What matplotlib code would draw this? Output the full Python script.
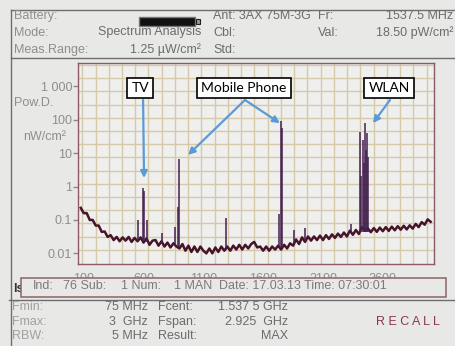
import matplotlib
matplotlib.use("Agg")
import matplotlib.pyplot as plt
from matplotlib.lines import Line2D
from matplotlib.patches import Rectangle
from matplotlib.ticker import NullLocator

# Spectrum analyser screen: power density vs frequency (MHz, nW/cm²)
freq_mhz = [
    75, 100, 125, 150, 175, 200, 225, 250, 275, 300, 325, 350, 375, 400, 425,
    450, 475, 500, 525, 550, 575, 600, 625, 650, 675, 700, 725, 750, 775, 800,
    825, 850, 875, 900, 925, 950, 975, 1000, 1025, 1050, 1075, 1100, 1125, 1150,
    1175, 1200, 1225, 1250, 1275, 1300, 1325, 1350, 1375, 1400, 1425, 1450, 1475,
    1500, 1525, 1550, 1575, 1600, 1625, 1650, 1675, 1700, 1725, 1750, 1775, 1800,
    1825, 1850, 1875, 1900, 1925, 1950, 1975, 2000, 2025, 2050, 2075, 2100, 2125,
    2150, 2175, 2200, 2225, 2250, 2275, 2300, 2325, 2350, 2375, 2400, 2425, 2450,
    2475, 2500, 2525, 2550, 2575, 2600, 2625, 2650, 2675, 2700, 2725, 2750, 2775,
    2800, 2825, 2850, 2875, 2900, 2925, 2950, 2975, 3000,
]
floor_nw = [
    0.23, 0.16, 0.16, 0.10, 0.10, 0.068, 0.068, 0.044, 0.045, 0.031, 0.035, 0.025,
    0.031, 0.023, 0.030, 0.024, 0.031, 0.022, 0.029, 0.023, 0.030, 0.021, 0.028,
    0.018, 0.024, 0.025, 0.017, 0.023, 0.016, 0.021, 0.015, 0.020, 0.016, 0.014,
    0.019, 0.012, 0.017, 0.011, 0.016, 0.011, 0.016, 0.012, 0.010, 0.014, 0.010,
    0.015, 0.011, 0.016, 0.012, 0.016, 0.012, 0.017, 0.013, 0.018, 0.013, 0.018,
    0.014, 0.019, 0.022, 0.015, 0.016, 0.012, 0.016, 0.012, 0.016, 0.013, 0.017,
    0.013, 0.018, 0.014, 0.020, 0.017, 0.026, 0.019, 0.030, 0.022, 0.032, 0.024,
    0.032, 0.025, 0.034, 0.025, 0.035, 0.027, 0.037, 0.029, 0.039, 0.031, 0.042,
    0.032, 0.048, 0.036, 0.050, 0.038, 0.060, 0.050, 0.056, 0.043, 0.057, 0.044,
    0.059, 0.046, 0.061, 0.047, 0.063, 0.049, 0.065, 0.051, 0.067, 0.052, 0.069,
    0.055, 0.076, 0.061, 0.086, 0.072, 0.104, 0.088,
]

# narrow carriers sticking out of the floor
spike_mhz = [554, 598, 606, 631, 757, 863, 884, 896, 1289, 1735, 1745, 1758,
             1858, 1947, 2336, 2409, 2420, 2432, 2440, 2451, 2458, 2465, 2478]
spike_base = [0.027, 0.024, 0.024, 0.022, 0.020, 0.017, 0.016, 0.015, 0.013,
              0.015, 0.015, 0.015, 0.019, 0.024, 0.040, 0.045, 0.045, 0.045,
              0.045, 0.045, 0.045, 0.045, 0.045]
spike_peak = [0.10, 0.92, 0.75, 0.10, 0.040, 0.060, 0.24, 6.5, 0.116, 0.15, 93,
              55, 0.050, 0.056, 0.074, 44, 2.0, 24, 5.0, 78, 12, 39, 7.8]

x_ticks = [100, 600, 1100, 1600, 2100, 2600]
y_ticks = [0.01, 0.1, 1, 10, 100, 1000]
y_tick_labels = ["0.01", "0.1", "1", "10", "100", "1 000"]

W, H = 455, 346
BG = "#e8e8e7"
LABEL = "#8e8e8e"
VALUE = "#6c6c6c"
FRAME = "#6e6e6e"
SCREEN_FONT = ["Liberation Sans", "DejaVu Sans"]


def fx(x):
    return x / W


def fy(y):
    return 1 - y / H


def screen_text(fig, x, y, s, ha="left", color=VALUE, **kw):
    fig.text(fx(x), fy(y), s, ha=ha, va="center", color=color, fontsize=9,
             family=SCREEN_FONT, **kw)


def hline(fig, x0, x1, y, color=FRAME, lw=1.0):
    fig.add_artist(Line2D([fx(x0), fx(x1)], [fy(y), fy(y)], color=color, lw=lw))


def vline(fig, x, y0, y1, color=FRAME, lw=1.0):
    fig.add_artist(Line2D([fx(x), fx(x)], [fy(y0), fy(y1)], color=color, lw=lw))


fig = plt.figure(figsize=(W / 100, H / 100), dpi=100)
fig.patch.set_facecolor(BG)

# ---- header panel
hline(fig, 11, W, 9.5)
hline(fig, 11, W, 57.5)
vline(fig, 11, 9.5, 346)
screen_text(fig, 14, 16, "Battery:", color=LABEL)
screen_text(fig, 14, 32.5, "Mode:", color=LABEL)
screen_text(fig, 14, 50, "Meas.Range:", color=LABEL)
screen_text(fig, 201, 32.5, "Spectrum Analysis", ha="right")
screen_text(fig, 201, 50, "1.25 µW/cm²", ha="right")
screen_text(fig, 213, 16, "Ant: 3AX 75M-3G")
screen_text(fig, 213, 32.5, "Cbl:")
screen_text(fig, 213, 50, "Std:")
screen_text(fig, 318, 16, "Fr:")
screen_text(fig, 318, 32.5, "Val:")
screen_text(fig, 453, 16, "1537.5 MHz", ha="right")
screen_text(fig, 453, 32.5, "18.50 pW/cm²", ha="right")
fig.add_artist(Rectangle((fx(139), fy(26)), 56 / W, 9.3 / H, transform=fig.transFigure,
                         facecolor="#111111", edgecolor="#777777", lw=1))
fig.add_artist(Rectangle((fx(196), fy(24)), 4 / W, 5 / H, transform=fig.transFigure,
                         facecolor="#9a9a80", edgecolor="#222222", lw=0.8))

# ---- spectrum plot
ax = fig.add_axes([fx(78), fy(264), (434 - 78) / W, (264 - 63) / H])
ax.set_facecolor("#efefee")
ax.set_yscale("log")
ax.set_xlim(52, 3028)
ax.set_ylim(0.0048, 4990)

# LCD grid (fixed pixel pitch, not tied to the ticks)
for k in range(27):
    gx = 0.012 + k * 0.0372
    ax.plot([gx, gx], [0, 1], color="#d6c9aa", lw=1.0,
            transform=ax.transAxes, zorder=0.5)
for k in range(15):
    gy = 1 - (2 + k * 13.2) / 201
    ax.plot([0, 1], [gy, gy], color="#d6c9aa", lw=1.0, transform=ax.transAxes,
            zorder=0.5)

ax.plot(freq_mhz, floor_nw, color="#45142a", lw=1.8, zorder=3)
ax.vlines(spike_mhz, spike_base, spike_peak, color="#43204f", lw=1.1, zorder=3)

for side in ax.spines.values():
    side.set_color("#8c5a64")
    side.set_linewidth(1.0)

ax.set_xticks(x_ticks)
ax.set_xticklabels([str(t) for t in x_ticks])
ax.set_yticks(y_ticks)
ax.set_yticklabels(y_tick_labels)
ax.yaxis.set_minor_locator(NullLocator())
ax.tick_params(axis="x", length=0, pad=6.8, labelsize=9, labelcolor=LABEL)
ax.tick_params(axis="y", length=3.6, width=1, color="#8a8a8a", pad=0.5,
               labelsize=9, labelcolor=LABEL)
for lab in ax.get_xticklabels() + ax.get_yticklabels():
    lab.set_family(SCREEN_FONT)

screen_text(fig, 14, 103, "Pow.D.", color=LABEL)
screen_text(fig, 23, 137, "nW/cm²", color=LABEL)

# callouts
arrow = dict(arrowstyle="-|>", color="#5b9bd5", lw=1.6, mutation_scale=10,
             shrinkA=0, shrinkB=0)
box = dict(boxstyle="square,pad=0.3", facecolor="white", edgecolor="black", lw=1.2)
for name, cx in [("TV", 571), ("Mobile Phone", 1440), ("WLAN", 2652)]:
    ax.text(cx, 890, name, ha="center", va="center", fontsize=10, family="Lato",
            bbox=box, zorder=6)
for start, tip in [((596, 390), (604, 1.8)),
                   ((1448, 390), (972, 8.8)),
                   ((1448, 390), (1740, 79)),
                   ((2660, 390), (2518, 79))]:
    ax.annotate("", xy=tip, xytext=start, arrowprops=arrow, zorder=5)

# ---- status line (covers the lower half of the frequency labels)
fig.text(fx(13), fy(289), "Is", ha="left", va="center", fontsize=9,
         fontweight="bold", color="#333333", family=SCREEN_FONT, zorder=0.5)
fig.add_artist(Rectangle((fx(20.7), fy(297.3)), (446 - 20.7) / W, 19 / H,
                         transform=fig.transFigure, facecolor=BG,
                         edgecolor="#8a6464", lw=1.1, zorder=1))
screen_text(fig, 33, 286, "Ind:", color="#7a7a7a")
screen_text(fig, 63, 286, "76 Sub:", color="#7a7a7a")
screen_text(fig, 121, 286, "1 Num:", color="#7a7a7a")
screen_text(fig, 174, 286, "1 MAN", color="#7a7a7a")
screen_text(fig, 219, 286, "Date: 17.03.13 Time: 07:30:01", color="#7a7a7a")

# ---- bottom panel
hline(fig, 9, W, 299.5)
screen_text(fig, 12, 307, "Fmin:", color="#a0a0a0")
screen_text(fig, 12, 321.7, "Fmax:", color="#a0a0a0")
screen_text(fig, 12, 336, "RBW:", color="#a0a0a0")
screen_text(fig, 148, 307, "75 MHz", ha="right")
screen_text(fig, 148, 321.7, "3  GHz", ha="right")
screen_text(fig, 148, 336, "5 MHz", ha="right")
screen_text(fig, 158, 307, "Fcent:")
screen_text(fig, 158, 321.7, "Fspan:")
screen_text(fig, 158, 336, "Result:")
screen_text(fig, 288, 307, "1.537 5 GHz", ha="right")
screen_text(fig, 288, 321.7, "2.925  GHz", ha="right")
screen_text(fig, 288, 336, "MAX", ha="right")
screen_text(fig, 408, 321.7, "R E C A L L", ha="center", color="#8a3848")

fig.savefig("out.png", dpi=100, facecolor=fig.get_facecolor())
